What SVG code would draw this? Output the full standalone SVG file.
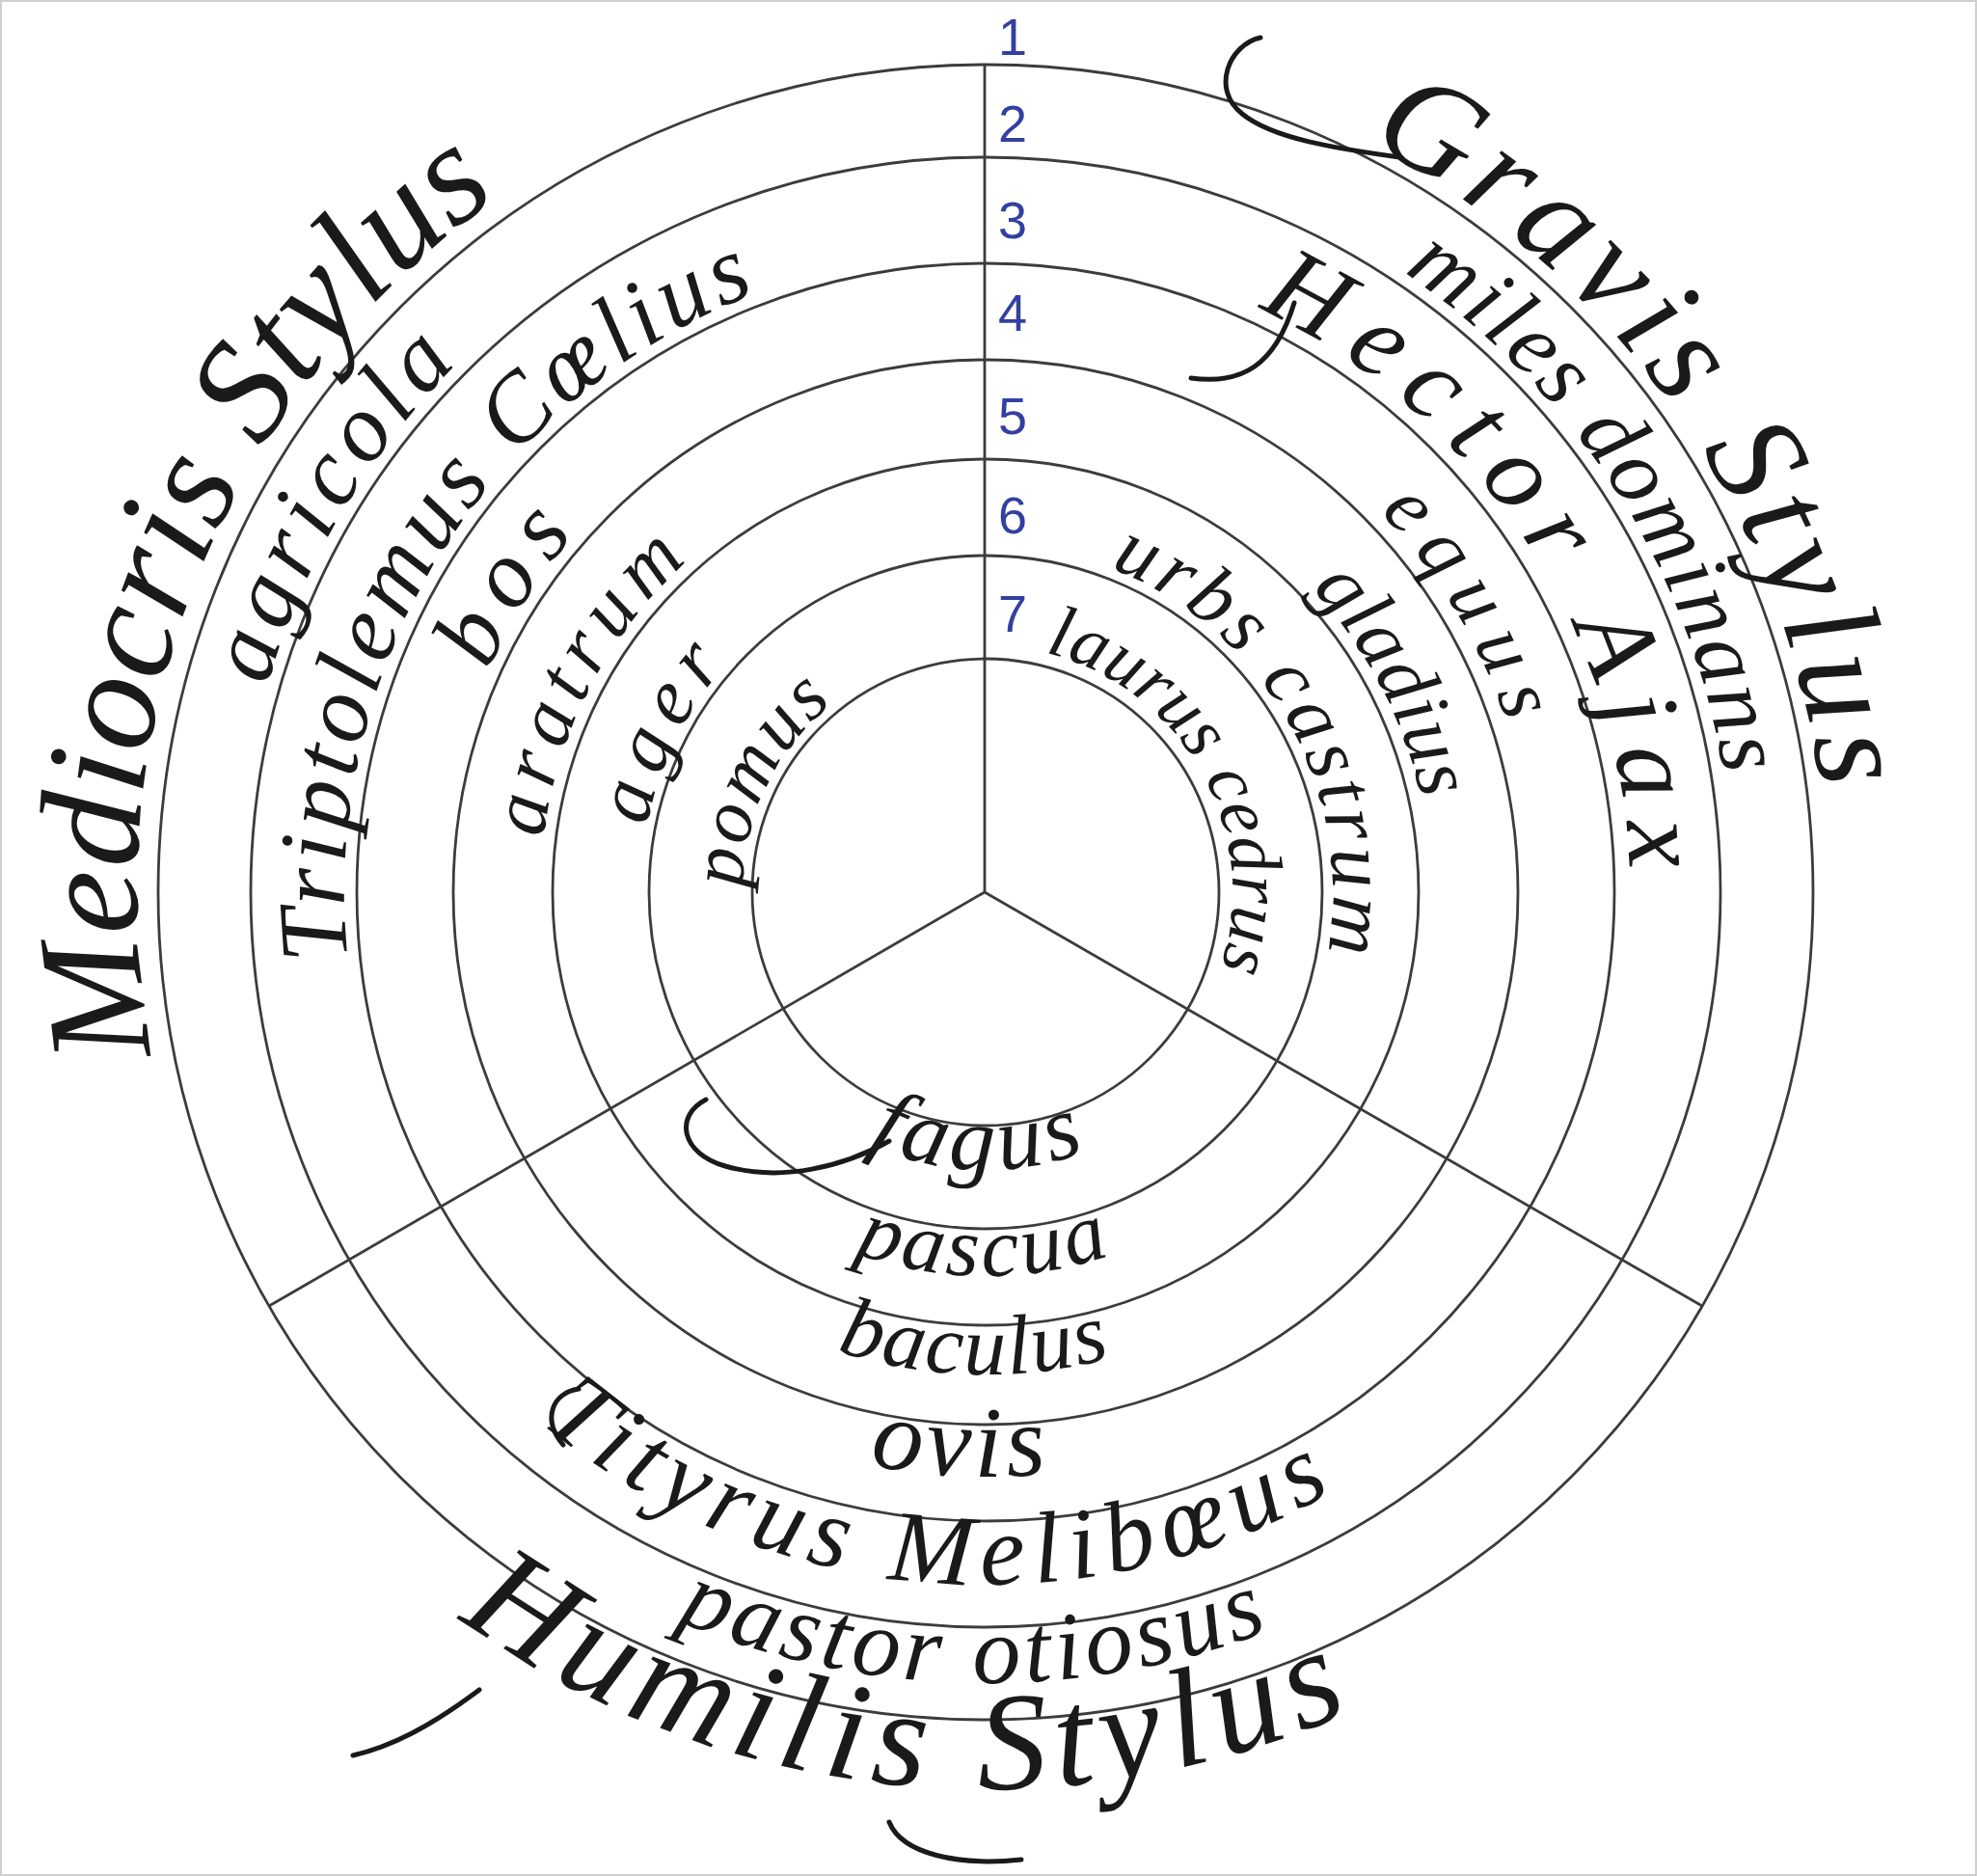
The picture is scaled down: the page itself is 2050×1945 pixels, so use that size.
<svg xmlns="http://www.w3.org/2000/svg" xmlns:xlink="http://www.w3.org/1999/xlink" width="2050" height="1945" viewBox="0 0 2050 1945">
<style>
.ring{fill:none;stroke:#3c3c3c;stroke-width:2.8}
.spoke{stroke:#3c3c3c;stroke-width:2.8;fill:none}
.lbl{font-family:"Liberation Serif","DejaVu Serif",serif;font-style:italic;fill:#1a1a1a}
.title{font-size:140px}
.r1{font-size:88px}
.r2{font-size:84px}
.num{font-family:"Liberation Sans","DejaVu Sans",sans-serif;font-size:54px;fill:#3340a0;text-anchor:middle}
.swash{fill:none;stroke:#1a1a1a;stroke-width:5;stroke-linecap:round}
</style>
<defs>
<path id="p-med" d="M 158.2 1092.9 A 880 880 0 0 1 517.2 204.1"/>
<path id="p-grav" d="M 1417.9 148.0 A 872 872 0 0 1 1887.5 818.7"/>
<path id="p-hum" d="M 475.3 1677.4 A 930 930 0 0 0 1400.2 1774.6"/>
<path id="p-miles" d="M 1455.4 282.5 A 775 775 0 0 1 1787.5 803.8"/>
<path id="p-hector" d="M 1304.3 319.6 A 668 668 0 0 1 1689.6 901.7"/>
<path id="p-equus" d="M 1430.6 530.4 A 568 568 0 0 1 1562.2 749.5"/>
<path id="p-glad" d="M 1359.9 609.9 A 462 462 0 0 1 1473.9 828.9"/>
<path id="p-urbs" d="M 1151.0 588.9 A 360 360 0 0 1 1376.5 987.5"/>
<path id="p-laurus" d="M 1083.9 676.6 A 256 256 0 0 1 1265.5 1004.1"/>
<path id="p-agri" d="M 277.0 711.4 A 775 775 0 0 1 474.0 377.0"/>
<path id="p-trip" d="M 360.6 994.5 A 665 665 0 0 1 783.7 304.2"/>
<path id="p-bos" d="M 505.9 695.2 A 565 565 0 0 1 595.6 554.3"/>
<path id="p-arat" d="M 563.5 868.7 A 462 462 0 0 1 712.9 581.7"/>
<path id="p-ager" d="M 670.6 856.7 A 358 358 0 0 1 751.8 690.1"/>
<path id="p-pomus" d="M 770.0 920.6 A 252 252 0 0 1 863.4 729.2"/>
<path id="p-fagus" d="M 900.3 1186.0 A 288 288 0 0 0 1125.2 1193.9"/>
<path id="p-pascua" d="M 885.9 1299.0 A 398 398 0 0 0 1151.6 1301.3"/>
<path id="p-bac" d="M 867.5 1400.6 A 500 500 0 0 0 1151.4 1408.0"/>
<path id="p-ovis" d="M 901.2 1518.8 A 606 606 0 0 0 1085.3 1527.7"/>
<path id="p-tity" d="M 560.5 1475.0 A 718 718 0 0 0 1381.0 1546.8"/>
<path id="p-pastor" d="M 701.6 1679.8 A 820 820 0 0 0 1315.9 1690.6"/>
</defs>
<rect x="0" y="0" width="2050" height="1945" fill="#ffffff"/>
<rect x="1" y="1" width="2048" height="1943" fill="none" stroke="#cfcfcf" stroke-width="2"/>
<g id="rings">
<circle class="ring" cx="1022" cy="925" r="858"/>
<circle class="ring" cx="1022" cy="925" r="762"/>
<circle class="ring" cx="1022" cy="925" r="652"/>
<circle class="ring" cx="1022" cy="925" r="552"/>
<circle class="ring" cx="1022" cy="925" r="449"/>
<circle class="ring" cx="1022" cy="925" r="349"/>
<circle class="ring" cx="1022" cy="925" r="242"/>
</g>
<g id="connectors">
<line class="spoke" x1="1021" y1="925" x2="1021" y2="67"/>
<line class="spoke" x1="1021" y1="925" x2="279" y2="1354"/>
<line class="spoke" x1="1021" y1="925" x2="1765" y2="1354"/>
</g>
<g id="numbers">
<text class="num" x="1050" y="57">1</text>
<text class="num" x="1050" y="147">2</text>
<text class="num" x="1050" y="247">3</text>
<text class="num" x="1050" y="343">4</text>
<text class="num" x="1050" y="450">5</text>
<text class="num" x="1050" y="553">6</text>
<text class="num" x="1050" y="655">7</text>
</g>
<g id="flourishes">
<path class="swash" d="M 1307 39 C 1275 46, 1255 92, 1288 118 C 1320 144, 1386 154, 1451 163"/>
<path class="swash" d="M 1235 392 C 1288 399, 1322 379, 1342 314"/>
<path class="swash" d="M 732 1140 C 699 1157, 706 1196, 752 1209 C 811 1226, 876 1209, 922 1183"/>
<path class="swash" d="M 366 1820 C 405 1811, 445 1791, 497 1752"/>
<path class="swash" d="M 922 1889 C 935 1922, 994 1935, 1059 1928"/>
<path class="swash" d="M 600 1440 C 572 1444, 562 1472, 584 1498"/>
</g>
<g id="mediocris-stylus"><text class="lbl" font-size="150"><textPath href="#p-med" textLength="1013.7" lengthAdjust="spacing">Mediocris Stylus</textPath></text></g>
<g id="gravis-stylus"><text class="lbl title"><textPath href="#p-grav" textLength="852.3" lengthAdjust="spacing">Gravis Stylus</textPath></text></g>
<g id="humilis-stylus"><text class="lbl" font-size="145"><textPath href="#p-hum" textLength="973.9" lengthAdjust="spacing">Humilis Stylus</textPath></text></g>
<g id="miles-dominans"><text class="lbl" font-size="95"><textPath href="#p-miles" textLength="635.7" lengthAdjust="spacing">miles dominans</textPath></text></g>
<g id="hector-ajax"><text class="lbl" font-size="112"><textPath href="#p-hector" textLength="734.5" lengthAdjust="spacing">Hector Ajax</textPath></text></g>
<g id="equus"><text class="lbl r2"><textPath href="#p-equus" textLength="257.7" lengthAdjust="spacing">equus</textPath></text></g>
<g id="gladius"><text class="lbl r2"><textPath href="#p-glad" textLength="250" lengthAdjust="spacing">gladius</textPath></text></g>
<g id="urbs-castrum"><text class="lbl r2"><textPath href="#p-urbs" textLength="496.4" lengthAdjust="spacing">urbs castrum</textPath></text></g>
<g id="laurus-cedrus"><text class="lbl" font-size="76"><textPath href="#p-laurus" textLength="420" lengthAdjust="spacing">laurus cedrus</textPath></text></g>
<g id="agricola"><text class="lbl" font-size="100"><textPath href="#p-agri" textLength="392.3" lengthAdjust="spacing">agricola</textPath></text></g>
<g id="triptolemus-coelius"><text class="lbl" font-size="100"><textPath href="#p-trip" textLength="870.5" lengthAdjust="spacing">Triptolemus Cœlius</textPath></text></g>
<g id="bos"><text class="lbl" font-size="100"><textPath href="#p-bos" textLength="167.6" lengthAdjust="spacing">bos</textPath></text></g>
<g id="aratrum"><text class="lbl r2"><textPath href="#p-arat" textLength="330.6" lengthAdjust="spacing">aratrum</textPath></text></g>
<g id="ager"><text class="lbl r2"><textPath href="#p-ager" textLength="187.4" lengthAdjust="spacing">ager</textPath></text></g>
<g id="pomus"><text class="lbl" font-size="80"><textPath href="#p-pomus" textLength="219.9" lengthAdjust="spacing">pomus</textPath></text></g>
<g id="fagus"><text class="lbl" font-size="95"><textPath href="#p-fagus" textLength="231.2" lengthAdjust="spacing">fagus</textPath></text></g>
<g id="pascua"><text class="lbl r1"><textPath href="#p-pascua" textLength="270.9" lengthAdjust="spacing">pascua</textPath></text></g>
<g id="baculus"><text class="lbl r1"><textPath href="#p-bac" textLength="288" lengthAdjust="spacing">baculus</textPath></text></g>
<g id="ovis"><text class="lbl" font-size="105"><textPath href="#p-ovis" textLength="185.1" lengthAdjust="spacing">ovis</textPath></text></g>
<g id="tityrus-meliboeus"><text class="lbl" font-size="105"><textPath href="#p-tity" textLength="877.2" lengthAdjust="spacing">Tityrus Melibœus</textPath></text></g>
<g id="pastor-otiosus"><text class="lbl" font-size="100"><textPath href="#p-pastor" textLength="629.7" lengthAdjust="spacing">pastor otiosus</textPath></text></g>
</svg>
